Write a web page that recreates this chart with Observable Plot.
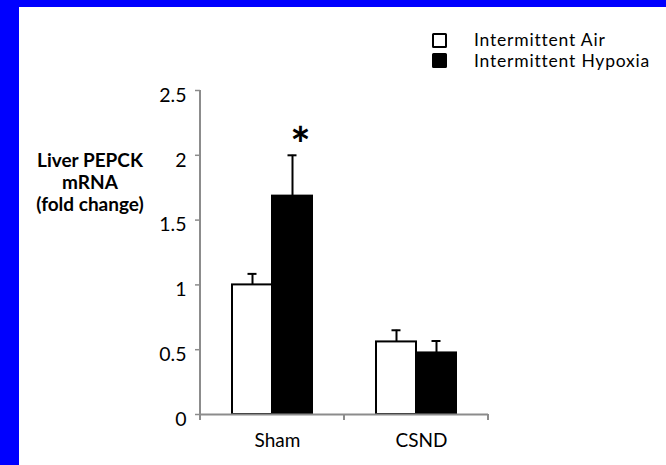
<!DOCTYPE html>
<html>
<head>
<meta charset="utf-8">
<script src="https://cdn.jsdelivr.net/npm/d3@7"></script>
<script src="https://cdn.jsdelivr.net/npm/@observablehq/plot@0.6"></script>
<style>
  html, body { margin: 0; padding: 0; background: white; }
  #wrap { position: relative; width: 666px; height: 465px; box-sizing: border-box;
          border-left: 19px solid #0000ff; border-top: 7px solid #0000ff; background: white; overflow: hidden; }
  #chart { position: absolute; left: -19px; top: -7px; width: 666px; height: 465px; }
  #ylabel { position: absolute; left: -19px; top: 142px; width: 180px; text-align: center;
            font-family: Lato, sans-serif; font-weight: bold; font-size: 19px; line-height: 22px; color: #000; }
  #legend { position: absolute; left: 413px; top: 23px; font-family: Lato, sans-serif; font-size: 17.5px;
            letter-spacing: 0.8px; color: #000; }
  .item { display: flex; align-items: center; height: 20.5px; line-height: 20px; }
  .sw { width: 11px; height: 11px; border: 2.5px solid #000; border-radius: 1.5px; margin-right: 27px; }
</style>
</head>
<body>
<div id="wrap">
  <div id="chart"></div>
  <div id="ylabel">Liver PEPCK<br>mRNA<br>(fold change)</div>
  <div id="legend"></div>
</div>
<script>
const groups = ["Sham", "CSND"];
const series = ["Intermittent Air", "Intermittent Hypoxia"];
const airValues = [1.0, 0.56];
const airErrors = [0.085, 0.09];
const hypoxiaValues = [1.685, 0.475];
const hypoxiaErrors = [0.315, 0.092];
const significant = [["Sham", "Intermittent Hypoxia"]];
const yTicks = [0, 0.5, 1, 1.5, 2, 2.5];
const yTickLabels = ["0", "0.5", "1", "1.5", "2", "2.5"];
const seriesFills = ["white", "black"];

const rows = [];
groups.forEach((g, i) => {
  rows.push({group: g, series: series[0], value: airValues[i], err: airErrors[i]});
  rows.push({group: g, series: series[1], value: hypoxiaValues[i], err: hypoxiaErrors[i]});
});
const sigRows = rows.filter(r => significant.some(([g, s]) => g === r.group && s === r.series));

const chart = Plot.plot({
  width: 666,
  height: 465,
  marginLeft: 200,
  marginRight: 178,
  marginTop: 90,
  marginBottom: 51,
  style: {background: "transparent", fontFamily: "Lato, sans-serif", fontSize: "15px", color: "#000"},
  fx: {domain: groups, padding: 0},
  x: {domain: series, axis: null, paddingInner: 0, paddingOuter: 0.78},
  y: {domain: [0, 2.5], axis: null},
  color: {domain: series, range: seriesFills},
  marks: [
    Plot.axisFx({anchor: "bottom", tickSize: 0, tickPadding: 19, fontSize: 19, dx: 5, label: null, fill: "#000"}),
    Plot.axisY({ticks: yTicks, tickSize: 5, tickFormat: () => "", stroke: "#8c8c8c", label: null, strokeWidth: 1.5}),
    Plot.axisY({ticks: yTicks, tickSize: 0, tickPadding: 14, dy: 5, tickFormat: (d, i) => yTickLabels[i],
                fill: "#000", fontSize: 19.5, label: null}),
    Plot.ruleX(rows, {fx: "group", x: "series", y1: "value", y2: d => d.value + d.err, stroke: "black", strokeWidth: 2}),
    Plot.tickY(rows, {fx: "group", x: "series", y: d => d.value + d.err, stroke: "black", strokeWidth: 2, insetLeft: 15.5, insetRight: 15.5}),
    Plot.barY(rows, {fx: "group", x: "series", y: "value", fill: "series", stroke: "black", strokeWidth: 2}),
    Plot.ruleY([0], {stroke: "#8c8c8c", strokeWidth: 2}),
    Plot.text(sigRows, {fx: "group", x: "series", y: d => d.value + d.err, text: () => "*", dy: 7, dx: 8,
                        fontSize: 48, fontWeight: "bold", lineAnchor: "bottom", fill: "black"})
  ]
});

// y-axis line and between-category ticks, placed with the chart's own scales
const ns = "http://www.w3.org/2000/svg";
const svg = chart.tagName.toLowerCase() === "svg" ? chart : chart.querySelector("svg");
const fx = chart.scale("fx");
const y = chart.scale("y");
const bw = fx.bandwidth;
function line(x1, y1, x2, y2) {
  const l = document.createElementNS(ns, "line");
  l.setAttribute("x1", x1); l.setAttribute("y1", y1);
  l.setAttribute("x2", x2); l.setAttribute("y2", y2);
  l.setAttribute("stroke", "#8c8c8c"); l.setAttribute("stroke-width", 2);
  svg.appendChild(l);
}
const x0 = fx.apply(groups[0]);
line(x0, y.apply(0) + 1, x0, y.apply(yTicks[yTicks.length - 1]));
groups.forEach(g => {
  const a = fx.apply(g);
  line(a, y.apply(0), a, y.apply(0) + 6);
  line(a + bw, y.apply(0), a + bw, y.apply(0) + 6);
});

document.getElementById("chart").appendChild(chart);

const legend = document.getElementById("legend");
series.forEach((s, i) => {
  const item = document.createElement("div");
  item.className = "item";
  const sw = document.createElement("div");
  sw.className = "sw";
  sw.style.background = seriesFills[i];
  const label = document.createElement("span");
  label.textContent = s;
  item.appendChild(sw);
  item.appendChild(label);
  legend.appendChild(item);
});
</script>
</body>
</html>
